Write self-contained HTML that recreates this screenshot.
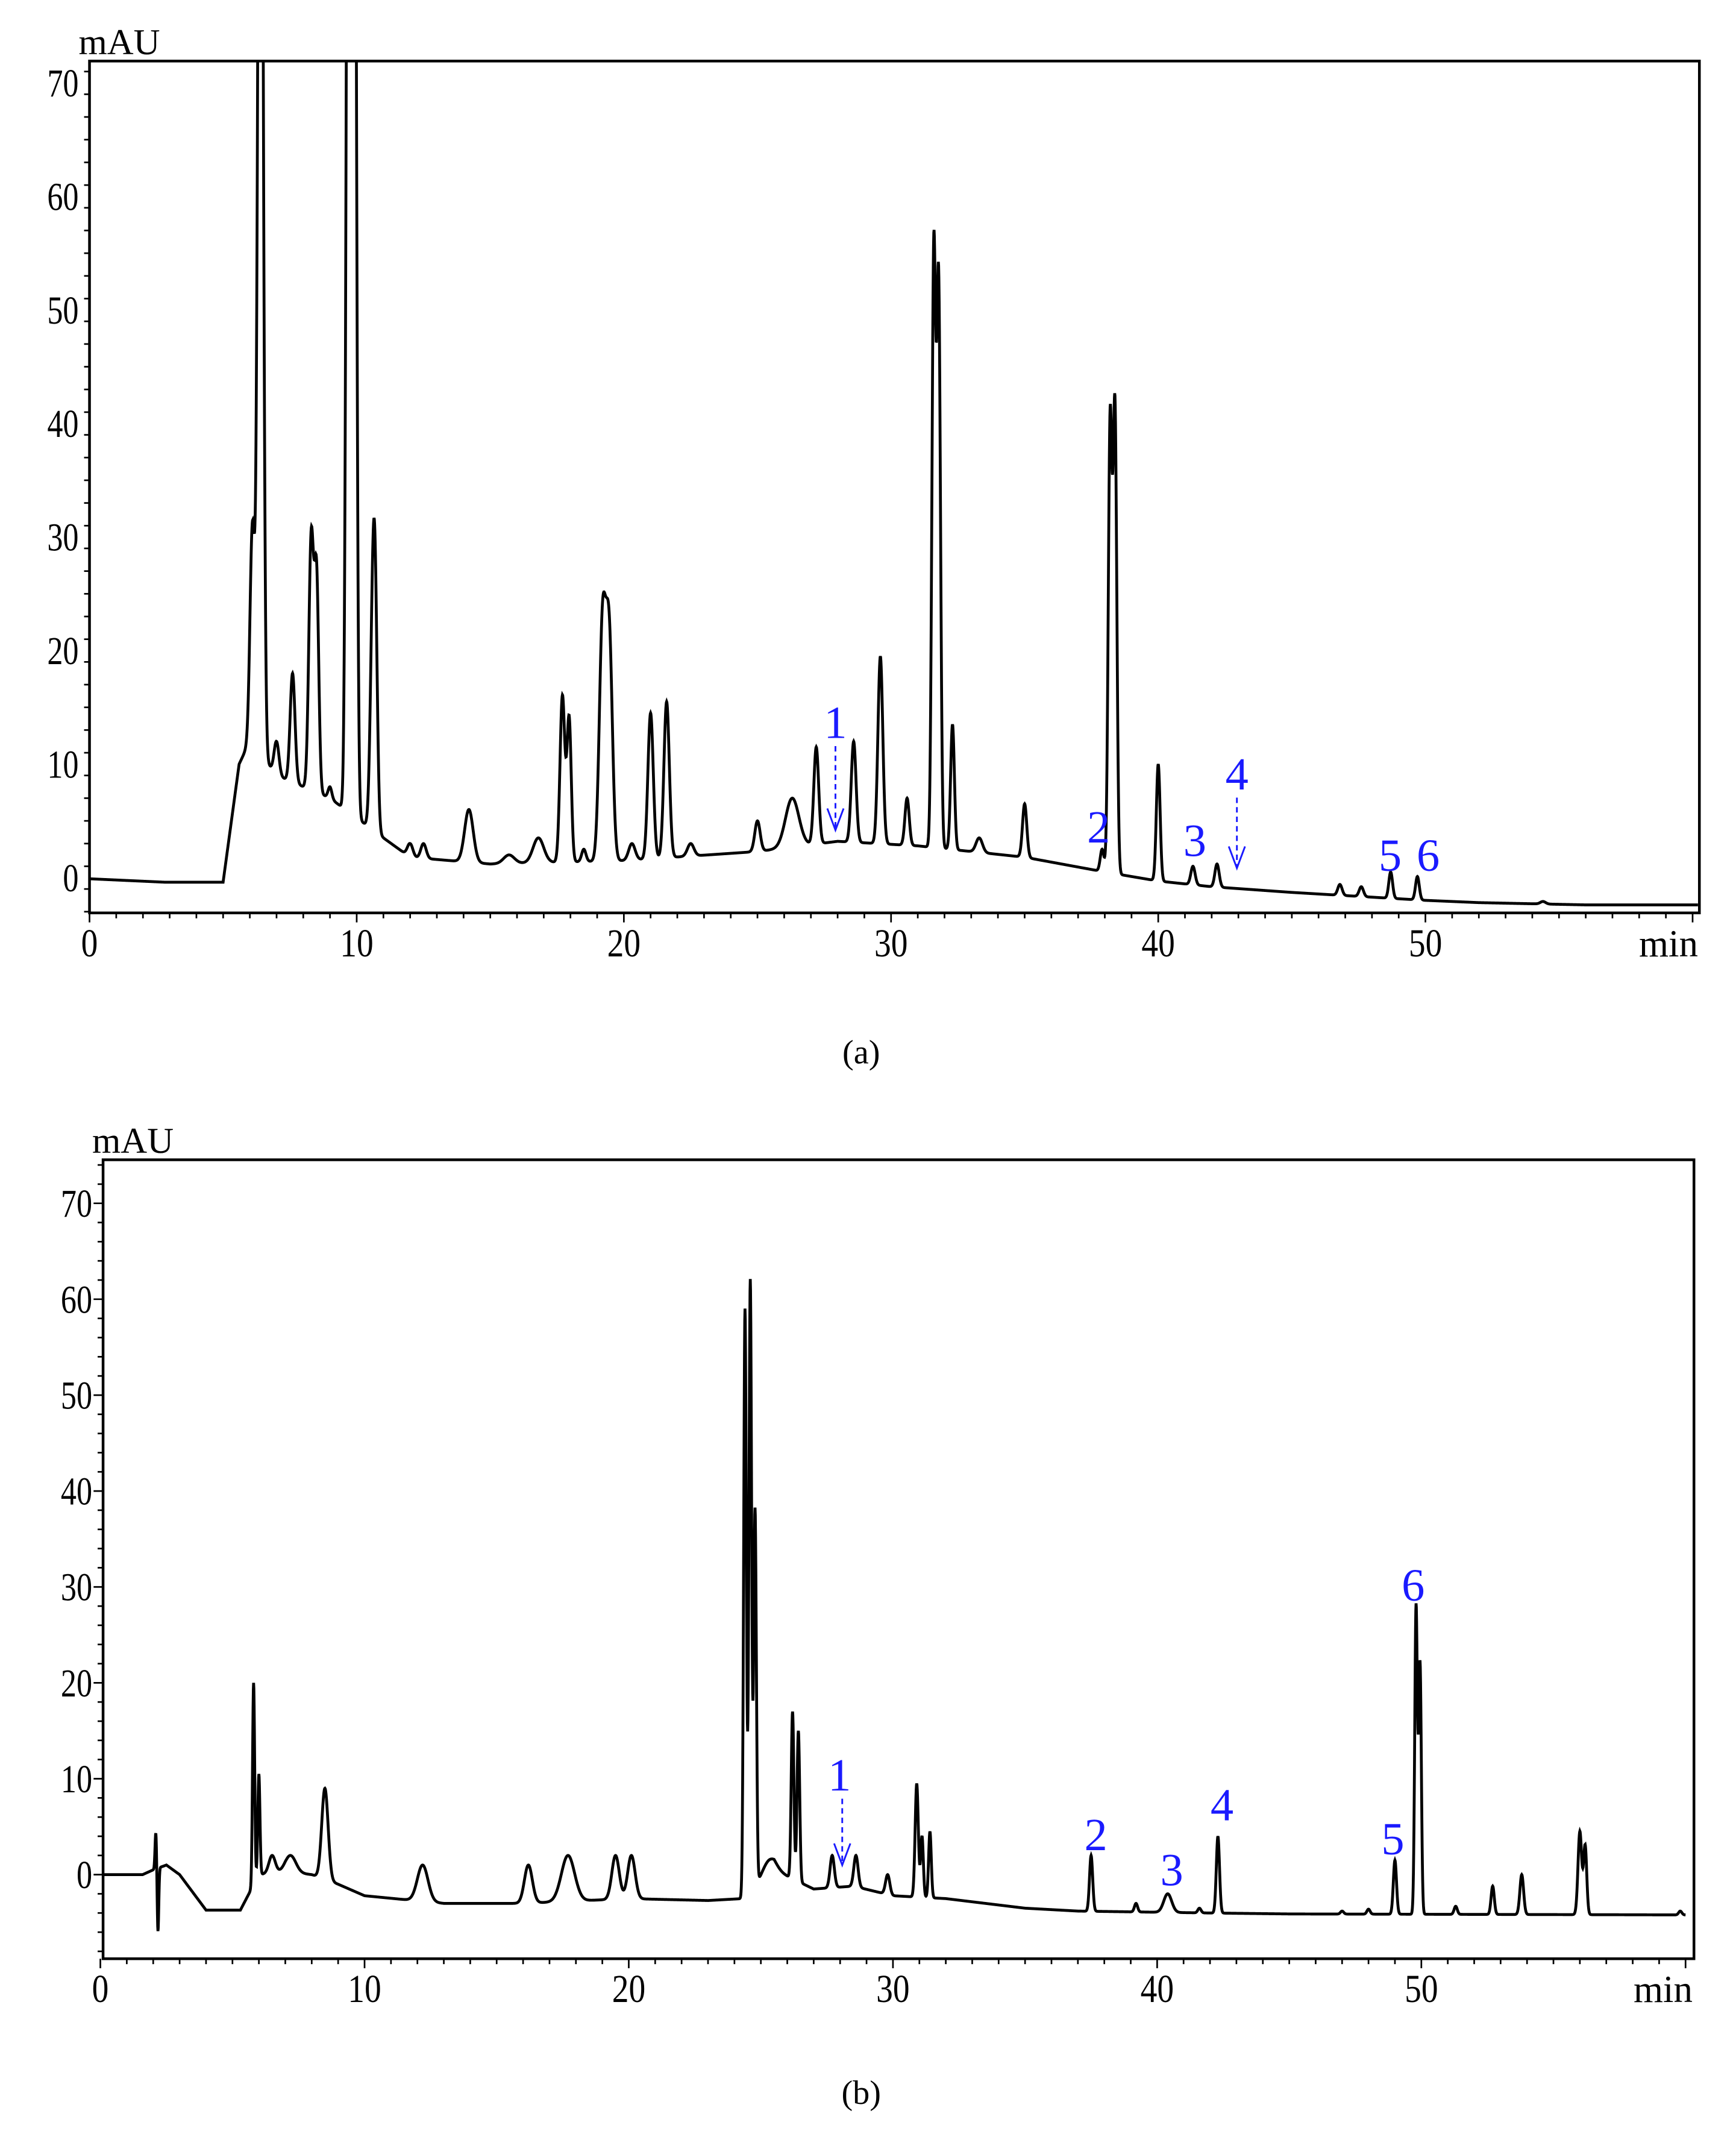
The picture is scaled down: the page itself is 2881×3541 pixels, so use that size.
<!DOCTYPE html>
<html><head><meta charset="utf-8"><style>
html,body{margin:0;padding:0;background:#fff}
svg{display:block}
text{font-family:"Liberation Serif",serif}
</style></head><body>
<svg id="fig" width="2881" height="3541" viewBox="0 0 1280 1573.2" xmlns="http://www.w3.org/2000/svg">
<defs>
<clipPath id="clipA"><rect x="66" y="45" width="1187" height="628"/></clipPath>
<clipPath id="clipB"><rect x="76" y="855" width="1173" height="589"/></clipPath>
</defs>
<g id="panelA"></g>
<g id="panelB"></g>
<text x="635" y="784" font-size="25" text-anchor="middle">(a)</text>
<text x="635" y="1551" font-size="25" text-anchor="middle">(b)</text>
</svg>
<script>
// ---- Panel A data ----
const aBaseT = [0,2.8,5.0,5.6,6.0,7,9,11,12,15,20,25,28,31,35,38,40,42,45,50,52,56,60.2];
const aBaseV = [-0.1,-0.4,-0.4,10,12,9,7,3.5,1.8,1.2,1.5,2.3,3.2,2.8,1.8,0.5,-0.3,-0.8,-1.3,-2.0,-2.2,-2.4,-2.4];
const aPeakT = [6.1,6.4,7.0,7.6,8.3,8.5,9.0,9.7,9.9,10.6,10.7,12.0,12.5,14.2,15.7,16.8,17.7,17.95,18.5,19.2,19.45,20.3,21.0,21.6,22.5,25.0,26.3,27.2,28.6,29.6,30.6,31.6,31.78,32.3,33.3,35.0,37.9,38.2,38.38,40.0,41.3,42.2,46.8,47.6,48.7,49.7,54.4];
const aPeakV = [31,130,12,18,30,26,8,130,130,22,19,3,3,6,2,3.5,16,14,2.5,22,21,3,14.5,15.5,3,5,7,11.5,12,19.5,7,55,52,13.5,3.5,6.5,2.5,40,41,10,1,1.2,-0.6,-0.8,0.5,0.1,-2.1];
const aPeakW = [0.09,0.09,0.09,0.09,0.09,0.08,0.07,0.08,0.08,0.09,0.08,0.1,0.1,0.16,0.2,0.2,0.09,0.08,0.08,0.12,0.12,0.12,0.1,0.1,0.12,0.1,0.25,0.09,0.09,0.09,0.08,0.07,0.07,0.07,0.12,0.08,0.07,0.07,0.07,0.07,0.08,0.08,0.08,0.08,0.07,0.07,0.1];
const aXTicks = [0,10,20,30,40,50];
const aYTicks = [0,10,20,30,40,50,60,70];
// ---- Panel B data ----
const bBaseT = [0,1.6,2.0,2.5,3,4,5.3,6,7,8,9,10,13,16,20,23,24.3,25.5,27,28.5,30,32,35,37,42,45,60];
const bBaseV = [0,0,0.5,1,0,-3.7,-3.7,0,0.3,0,-1,-2.2,-3,-3,-2.5,-2.7,-2.5,0.5,-1.5,-1.2,-2.2,-2.5,-3.5,-3.8,-4,-4.1,-4.2];
const bPeakT = [2.1,2.18,5.8,6.0,6.5,7.2,8.5,12.2,16.2,17.7,19.5,20.1,24.4,24.6,24.78,25.3,26.2,26.42,27.7,28.6,29.8,30.9,31.1,31.4,37.5,39.2,40.4,41.6,42.3,47.0,48.0,49.0,49.8,49.95,51.3,52.7,53.8,56.0,56.2,59.8];
const bPeakV = [4.5,-6,20,10.5,2,2,9,1,1,2,2,2,59,62,38,1.5,17,15,2,2,0,9.5,4,4.5,2,-3,-2,-3.5,4,-3.8,-3.6,1.5,28,22,-3.3,-1.2,0,4.5,3,-3.8];
const bPeakW = [0.03,0.03,0.04,0.04,0.12,0.2,0.12,0.2,0.15,0.25,0.14,0.14,0.05,0.05,0.05,0.25,0.05,0.05,0.08,0.08,0.08,0.06,0.05,0.05,0.06,0.06,0.15,0.06,0.06,0.06,0.06,0.06,0.05,0.05,0.06,0.06,0.07,0.07,0.06,0.06];
const bXTicks = [0,10,20,30,40,50];
const bYTicks = [0,10,20,30,40,50,60,70];

const NS="http://www.w3.org/2000/svg";
function mk(parent,tag,attrs){const e=document.createElementNS(NS,tag);for(const k in attrs)e.setAttribute(k,attrs[k]);parent.appendChild(e);return e;}
function interp(ts,vs,t){if(t<=ts[0])return vs[0];for(let i=1;i<ts.length;i++){if(t<=ts[i]){const f=(t-ts[i-1])/(ts[i]-ts[i-1]);return vs[i-1]+f*(vs[i]-vs[i-1]);}}return vs[vs.length-1];}

function drawPanel(g,cfg){
  const X=t=>cfg.x0+t*cfg.ppm, Y=v=>cfg.y0-v*cfg.ppu;
  const box=mk(g,'rect',{x:cfg.L,y:cfg.T,width:cfg.R-cfg.L,height:cfg.B-cfg.T,fill:'none',stroke:'#000','stroke-width':2});
  
  
  for(let t=0;t<=cfg.tmax;t+=1){const e=mk(g,'line',{x1:X(t),x2:X(t),y1:cfg.B,y2:cfg.B+(t%10===0?7:4),stroke:'#000','stroke-width':1.2});
    }
  cfg.xt.forEach(t=>{const e=mk(g,'text',{x:X(t),y:cfg.B+32,'font-size':29,'text-anchor':'middle',transform:`translate(${X(t)},0) scale(0.85,1) translate(${-X(t)},0)`});e.textContent=t;
    });
  const m=mk(g,'text',{x:cfg.R-1,y:cfg.B+32,'font-size':28,'text-anchor':'end'});m.textContent='min';
  
  for(let v=Math.ceil(cfg.vmin);v<=cfg.vmax;v+=2){const yy=Y(v);if(yy<cfg.T||yy>cfg.B)continue;
    const e=mk(g,'line',{x1:cfg.L-(v%10===0?7:4),x2:cfg.L,y1:yy,y2:yy,stroke:'#000','stroke-width':1.2});
    }
  cfg.yt.forEach(v=>{const yy=Y(v)+10;const xx=cfg.L-8;const e=mk(g,'text',{x:xx,y:yy,'font-size':29,'text-anchor':'end',transform:`translate(${xx},0) scale(0.8,1) translate(${-xx},0)`});e.textContent=v;
    });
  const u=mk(g,'text',{x:cfg.L-8,y:cfg.T-5,'font-size':27});u.textContent='mAU';
  
  let d='';
  for(let t=0;t<=cfg.tmax;t+=0.01){
    let v=interp(cfg.bt,cfg.bv,t);
    for(let i=0;i<cfg.pt.length;i++){const dt=(t-cfg.pt[i])/cfg.pw[i];if(Math.abs(dt)<6){const amp=cfg.pv[i]-interp(cfg.bt,cfg.bv,cfg.pt[i]);v+=amp*Math.exp(-0.5*dt*dt);}}
    d+=(d?'L':'M')+X(t).toFixed(2)+','+Y(v).toFixed(2);
  }
  const p=mk(g,'path',{d:d,fill:'none',stroke:'#000','stroke-width':2.1,'clip-path':cfg.clip});
  
  cfg.labels.forEach(l=>{const e=mk(g,'text',{x:l[1],y:l[2],'font-size':34,fill:'#1a1aff','text-anchor':'middle'});e.textContent=l[0];
    });
  cfg.arrows.forEach(a=>{const ln=mk(g,'line',{x1:a[0],y1:a[1],x2:a[0],y2:a[2],stroke:'#1a1aff','stroke-width':1.3,'stroke-dasharray':'4,3'});
    
    const hd=mk(g,'path',{d:`M${a[0]-6},${a[2]-16}L${a[0]},${a[2]}L${a[0]+6},${a[2]-16}`,fill:'none',stroke:'#1a1aff','stroke-width':1.3});
    });
}
drawPanel(document.getElementById('panelA'),{L:66,T:45,R:1253,B:673,x0:66,ppm:19.7,y0:647,ppu:8.37,tmax:60.2,vmin:-3,vmax:71.9,
  xt:aXTicks,yt:aYTicks,bt:aBaseT,bv:aBaseV,pt:aPeakT,pv:aPeakV,pw:aPeakW,clip:'url(#clipA)',
  labels:[['1',616,544],['4',912,582],['2',810,621],['3',881,631],['5',1025,642],['6',1053,642]],
  arrows:[[616,550,612],[912,588,640]]});
drawPanel(document.getElementById('panelB'),{L:76,T:855,R:1249,B:1444,x0:74,ppm:19.48,y0:1382,ppu:7.07,tmax:60,vmin:-8.8,vmax:74.5,
  xt:bXTicks,yt:bYTicks,bt:bBaseT,bv:bBaseV,pt:bPeakT,pv:bPeakV,pw:bPeakW,clip:'url(#clipB)',
  labels:[['1',619,1320],['2',808,1364],['3',864,1390],['4',901,1342],['5',1027,1367],['6',1042,1180]],
  arrows:[[621,1326,1375]]});
</script>
</body></html>
